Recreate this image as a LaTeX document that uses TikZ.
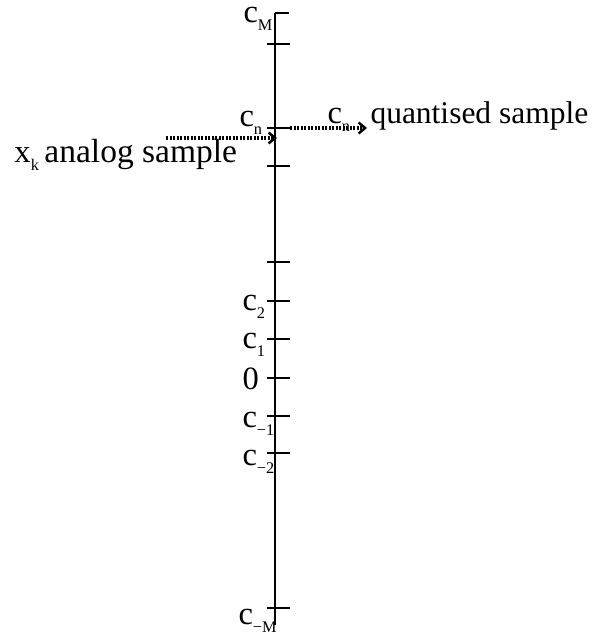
\documentclass[tikz,border=0pt]{standalone}
\usepackage{fontspec}
\setmainfont{Liberation Serif}
\usetikzlibrary{arrows.meta}
\newcommand{\sbs}[1]{\raisebox{-3.2pt}{\fontsize{6.5pt}{7pt}\selectfont #1}}
\begin{document}
\begin{tikzpicture}[x=0.4pt,y=-0.4pt,
  lbl/.style={anchor=base west, inner sep=0pt, font=\fontsize{13pt}{15pt}\selectfont},
  axisline/.style={line width=1pt, line cap=butt},
  tickmark/.style={line width=1pt},
  dotarrow/.style={line width=1.3pt, dash pattern=on 0.8pt off 0.6pt,
    -{Straight Barb[length=2.6pt,width=4.4pt,line width=1pt]}}]
\useasboundingbox (0,0) rectangle (592,633);
% axis
\coordinate (top) at (275,13);
\coordinate (bot) at (275,625);
\draw[axisline] (top) -- (bot);
% ticks
\draw[tickmark] (top) -- (289,13);
\foreach \y in {44,128,166,262,301,339,378,416,453,608}
  \draw[tickmark] (267,\y) -- (290,\y);
% labels on the axis
\node[lbl] (cM)  at (243,22)  {c\sbs{M}};
\node[lbl] (cn)  at (239,126) {c\sbs{n}};
\node[lbl] (c2)  at (242,310) {c\sbs{2}};
\node[lbl] (c1)  at (242,348) {c\sbs{1}};
\node[lbl] (c0)  at (242,389) {0};
\node[lbl] (cm1) at (242,427) {c\sbs{−1}};
\node[lbl] (cm2) at (242,465) {c\sbs{−2}};
\node[lbl] (cmM) at (238,624) {c\sbs{−M}};
% input / output
\node[lbl] (xk) at (14,162) {x\sbs{k}};
\node[lbl, font=\fontsize{13.4pt}{15pt}\selectfont] (an) at (44,162) {analog sample};
\node[lbl] (cnq) at (327,123) {c\sbs{n}};
\node[lbl, font=\fontsize{12.6pt}{15pt}\selectfont] (qs) at (370,123) {quantised sample};
\coordinate (inS) at (166,138);
\coordinate (inE) at (277,138);
\coordinate (outS) at (290,128);
\coordinate (outE) at (367,128);
\draw[dotarrow] (inS) -- (inE);
\draw[dotarrow] (outS) -- (outE);
\end{tikzpicture}
\end{document}
